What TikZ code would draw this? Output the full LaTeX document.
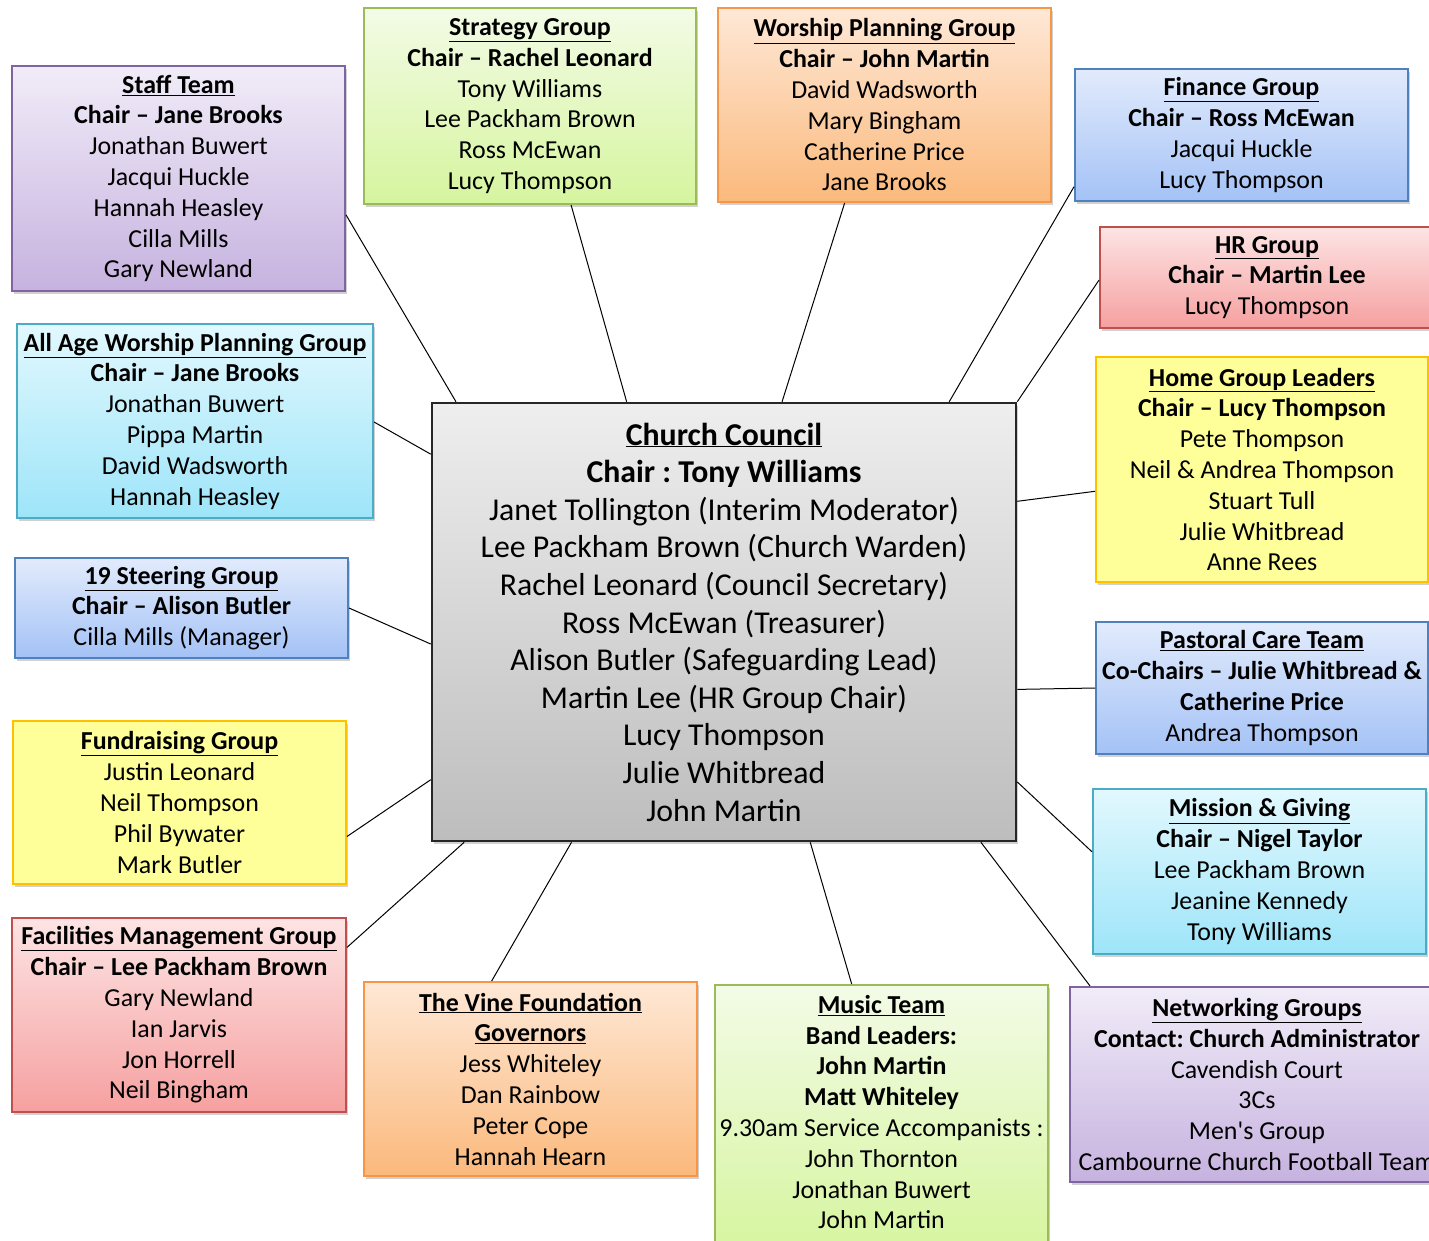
\documentclass[tikz,border=0pt]{standalone}
\usepackage{fontspec}
\setmainfont{Carlito}[Ligatures=TeXOff]
\usetikzlibrary{calc,shadows}
\definecolor{purpleline}{HTML}{8064A2}
\definecolor{purpletop}{HTML}{F1ECF8}
\definecolor{purplebot}{HTML}{C6B2DF}
\definecolor{greenline}{HTML}{9BBB59}
\definecolor{greentop}{HTML}{F3FBE6}
\definecolor{greenbot}{HTML}{D5F59E}
\definecolor{orangeline}{HTML}{F79646}
\definecolor{orangetop}{HTML}{FEE8D6}
\definecolor{orangebot}{HTML}{FBB97C}
\definecolor{blueline}{HTML}{4F81BD}
\definecolor{bluetop}{HTML}{E2EBFC}
\definecolor{bluebot}{HTML}{A4C2F6}
\definecolor{redline}{HTML}{C0504D}
\definecolor{redtop}{HTML}{FDE4E4}
\definecolor{redbot}{HTML}{F6A0A0}
\definecolor{yellowline}{HTML}{FFC000}
\definecolor{yellowfill}{HTML}{FFFF99}
\definecolor{cyanline}{HTML}{4BACC6}
\definecolor{cyantop}{HTML}{E2F8FE}
\definecolor{cyanbot}{HTML}{9EE5F9}
\definecolor{greytop}{HTML}{EEEEEE}
\definecolor{greybot}{HTML}{BDBDBD}
\tikzset{
  grp/.style={rectangle, line width=2pt, align=center, inner sep=0pt,
    font=\fontsize{25.9}{30.8}\selectfont,
    drop shadow={shadow xshift=2pt, shadow yshift=-3pt, opacity=0.3, fill=black!60}},
  purplebox/.style={grp, draw=purpleline, top color=purpletop, bottom color=purplebot},
  greenbox/.style={grp, draw=greenline, top color=greentop, bottom color=greenbot},
  orangebox/.style={grp, draw=orangeline, top color=orangetop, bottom color=orangebot},
  bluebox/.style={grp, draw=blueline, top color=bluetop, bottom color=bluebot},
  redbox/.style={grp, draw=redline, top color=redtop, bottom color=redbot},
  yellowbox/.style={grp, draw=yellowline, fill=yellowfill},
  cyanbox/.style={grp, draw=cyanline, top color=cyantop, bottom color=cyanbot},
  councilbox/.style={rectangle, line width=2.5pt, draw=black!85, top color=greytop, bottom color=greybot,
    align=center, inner sep=0pt, font=\fontsize{31.8}{37.6}\selectfont,
    drop shadow={shadow xshift=2pt, shadow yshift=-3pt, opacity=0.3, fill=black!60}},
  link/.style={line width=1pt, draw=black}
}
\newcommand{\hd}[1]{\textbf{\underline{#1}}}
\frenchspacing
\begin{document}
\begin{tikzpicture}[x=1pt,y=-1pt]
\useasboundingbox (0,0) rectangle (1429,1240);
\clip (0,0) rectangle (1429,1240);

% Central box
\node[councilbox, minimum width=584pt, minimum height=438pt] (council) at (724,622)
 {\hd{Church Council}\\ \textbf{Chair : Tony Williams}\\ Janet Tollington (Interim Moderator)\\
  Lee Packham Brown (Church Warden)\\ Rachel Leonard (Council Secretary)\\ Ross McEwan (Treasurer)\\
  Alison Butler (Safeguarding Lead)\\ Martin Lee (HR Group Chair)\\ Lucy Thompson\\ Julie Whitbread\\ John Martin};

% Left column
\node[purplebox, minimum width=333pt, minimum height=225pt] (staff) at (178.5,178.5)
 {\hd{Staff Team}\\ \textbf{Chair – Jane Brooks}\\ Jonathan Buwert\\ Jacqui Huckle\\ Hannah Heasley\\ Cilla Mills\\ Gary Newland};
\node[cyanbox, minimum width=356pt, minimum height=194pt] (allage) at (195,421)
 {\hd{All Age Worship Planning Group}\\ \textbf{Chair – Jane Brooks}\\ Jonathan Buwert\\ Pippa Martin\\ David Wadsworth\\ Hannah Heasley};
\node[bluebox, minimum width=333pt, minimum height=100pt] (steer) at (181.5,608)
 {\hd{19 Steering Group}\\ \textbf{Chair – Alison Butler}\\ Cilla Mills (Manager)};
\node[yellowbox, minimum width=333pt, minimum height=163pt] (fund) at (179.5,802.5)
 {\hd{Fundraising Group}\\ Justin Leonard\\ Neil Thompson\\ Phil Bywater\\ Mark Butler};
\node[redbox, minimum width=334pt, minimum height=194pt] (facil) at (179,1015)
 {\hd{Facilities Management Group}\\ \textbf{Chair – Lee Packham Brown}\\ Gary Newland\\ Ian Jarvis\\ Jon Horrell\\ Neil Bingham};

% Top row
\node[greenbox, minimum width=332pt, minimum height=196pt] (strat) at (530,106)
 {\hd{Strategy Group}\\ \textbf{Chair – Rachel Leonard}\\ Tony Williams\\ Lee Packham Brown\\ Ross McEwan\\ Lucy Thompson};
\node[orangebox, minimum width=333pt, minimum height=194pt] (worship) at (884.5,105)
 {\hd{Worship Planning Group}\\ \textbf{Chair – John Martin}\\ David Wadsworth\\ Mary Bingham\\ Catherine Price\\ Jane Brooks};

% Right column
\node[bluebox, minimum width=333pt, minimum height=132pt] (finance) at (1241.5,135)
 {\hd{Finance Group}\\ \textbf{Chair – Ross McEwan}\\ Jacqui Huckle\\ Lucy Thompson};
\node[redbox, minimum width=334pt, minimum height=101pt] (hr) at (1267,277.5)
 {\hd{HR Group}\\ \textbf{Chair – Martin Lee}\\ Lucy Thompson};
\node[yellowbox, minimum width=332pt, minimum height=225pt] (home) at (1262,469.5)
 {\hd{Home Group Leaders}\\ \textbf{Chair – Lucy Thompson}\\ Pete Thompson\\ Neil \& Andrea Thompson\\ Stuart Tull\\ Julie Whitbread\\ Anne Rees};
\node[bluebox, minimum width=332pt, minimum height=132pt] (pastoral) at (1262,688)
 {\hd{Pastoral Care Team}\\ \textbf{Co-Chairs – Julie Whitbread \&}\\ \textbf{Catherine Price}\\ Andrea Thompson};
\node[cyanbox, minimum width=333pt, minimum height=165pt] (mission) at (1259.5,871.5)
 {\hd{Mission \& Giving}\\ \textbf{Chair – Nigel Taylor}\\ Lee Packham Brown\\ Jeanine Kennedy\\ Tony Williams};
\node[purplebox, minimum width=374pt, minimum height=195pt] (network) at (1257,1084.5)
 {\hd{Networking Groups}\\ \textbf{Contact: Church Administrator}\\ Cavendish Court\\ 3Cs\\ Men's Group\\ Cambourne Church Football Team};

% Bottom row
\node[orangebox, minimum width=333pt, minimum height=194pt] (vine) at (530.5,1079)
 {\hd{The Vine Foundation}\\ \hd{Governors}\\ Jess Whiteley\\ Dan Rainbow\\ Peter Cope\\ Hannah Hearn};
\node[greenbox, minimum width=333pt, minimum height=270pt] (music) at (881.5,1120) {};
\node[align=center, inner sep=0pt, font=\fontsize{25.9}{30.8}\selectfont] (musictext) at (881.5,1112)
 {\hd{Music Team}\\ \textbf{Band Leaders:}\\ \textbf{John Martin}\\ \textbf{Matt Whiteley}\\ 9.30am Service Accompanists :\\ John Thornton\\ Jonathan Buwert\\ John Martin};

% Connectors
\draw[link] ($(staff.north east)!0.66!(staff.south east)$) -- ($(council.north west)!0.043!(council.north east)$);
\draw[link] ($(strat.south west)!0.623!(strat.south east)$) -- ($(council.north west)!0.334!(council.north east)$);
\draw[link] ($(worship.south west)!0.381!(worship.south east)$) -- ($(council.north west)!0.599!(council.north east)$);
\draw[link] ($(finance.north west)!0.886!(finance.south west)$) -- ($(council.north west)!0.884!(council.north east)$);
\draw[link] ($(hr.north west)!0.525!(hr.south west)$) -- (council.north east);
\draw[link] ($(allage.north east)!0.505!(allage.south east)$) -- ($(council.north west)!0.119!(council.south west)$);
\draw[link] ($(steer.north east)!0.5!(steer.south east)$) -- ($(council.north west)!0.55!(council.south west)$);
\draw[link] ($(fund.north east)!0.706!(fund.south east)$) -- ($(council.north west)!0.858!(council.south west)$);
\draw[link] ($(facil.north east)!0.155!(facil.south east)$) -- ($(council.south west)!0.057!(council.south east)$);
\draw[link] ($(vine.north west)!0.384!(vine.north east)$) -- ($(council.south west)!0.24!(council.south east)$);
\draw[link] ($(music.north west)!0.411!(music.north east)$) -- ($(council.south west)!0.647!(council.south east)$);
\draw[link] ($(network.north west)!0.056!(network.north east)$) -- ($(council.south west)!0.938!(council.south east)$);
\draw[link] ($(mission.north west)!0.382!(mission.south west)$) -- ($(council.north east)!0.863!(council.south east)$);
\draw[link] ($(pastoral.north west)!0.5!(pastoral.south west)$) -- ($(council.north east)!0.653!(council.south east)$);
\draw[link] ($(home.north west)!0.596!(home.south west)$) -- ($(council.north east)!0.226!(council.south east)$);
\end{tikzpicture}
\end{document}
